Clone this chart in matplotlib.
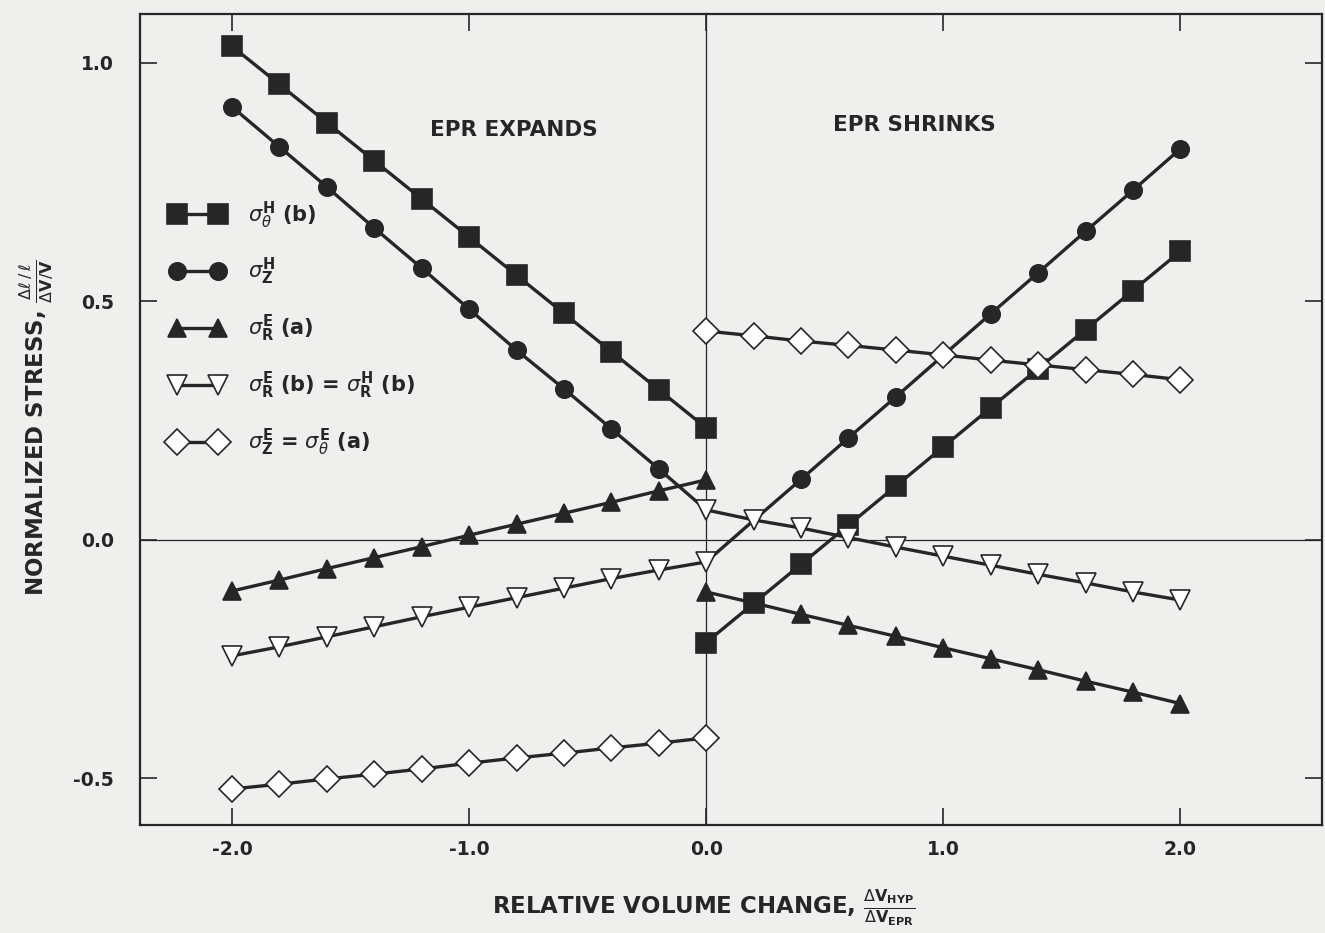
import numpy as np
import matplotlib
matplotlib.use("Agg")
import matplotlib.pyplot as plt

# Relative volume change positions
x_left = [-2.0, -1.8, -1.6, -1.4, -1.2, -1.0, -0.8, -0.6, -0.4, -0.2, 0.0]
x_right = [0.0, 0.2, 0.4, 0.6, 0.8, 1.0, 1.2, 1.4, 1.6, 1.8, 2.0]

# Normalized stress values, EPR expands (left) / EPR shrinks (right)
sq_left = [1.035, 0.955, 0.875, 0.795, 0.715, 0.635, 0.555, 0.475, 0.395, 0.315, 0.235]
sq_right = [-0.215, -0.133, -0.051, 0.031, 0.113, 0.195, 0.277, 0.359, 0.441, 0.523, 0.605]

circ_left = [0.908, 0.824, 0.740, 0.654, 0.570, 0.484, 0.398, 0.317, 0.233, 0.149, 0.063]
circ_right = [-0.046, 0.041, 0.127, 0.214, 0.300, 0.387, 0.474, 0.560, 0.647, 0.733, 0.820]

tri_left = [-0.107, -0.084, -0.060, -0.037, -0.014, 0.010, 0.033, 0.056, 0.079, 0.103, 0.126]
tri_right = [-0.109, -0.132, -0.156, -0.179, -0.202, -0.226, -0.249, -0.272, -0.296, -0.319, -0.343]

itri_left = [-0.243, -0.224, -0.203, -0.182, -0.161, -0.141, -0.121, -0.101, -0.081, -0.063, -0.046]
itri_right = [0.063, 0.042, 0.025, 0.005, -0.015, -0.034, -0.053, -0.072, -0.090, -0.109, -0.126]

dia_left = [-0.522, -0.512, -0.501, -0.491, -0.480, -0.468, -0.457, -0.447, -0.436, -0.426, -0.415]
dia_right = [0.438, 0.428, 0.417, 0.408, 0.398, 0.388, 0.377, 0.367, 0.357, 0.347, 0.336]

labels = [
    r'$\sigma_{\theta}^{\mathbf{H}}$ (b)',
    r'$\sigma_{\mathbf{Z}}^{\mathbf{H}}$',
    r'$\sigma_{\mathbf{R}}^{\mathbf{E}}$ (a)',
    r'$\sigma_{\mathbf{R}}^{\mathbf{E}}$ (b) = $\sigma_{\mathbf{R}}^{\mathbf{H}}$ (b)',
    r'$\sigma_{\mathbf{Z}}^{\mathbf{E}}$ = $\sigma_{\theta}^{\mathbf{E}}$ (a)',
]

BG = '#efefed'
INK = '#262626'

plt.rcParams['font.family'] = ['DejaVu Sans']
plt.rcParams['mathtext.fontset'] = 'dejavusans'

fig = plt.figure(figsize=(13.25, 9.33), dpi=100, facecolor=BG)
ax = fig.add_axes([0.1057, 0.1158, 0.8923, 0.8692], facecolor=BG)

lw = 2.4
common = dict(color=INK, lw=lw, markeredgecolor=INK, markeredgewidth=1.2)

# filled square
ax.plot(x_left, sq_left, marker='s', ms=14.5, markerfacecolor=INK, zorder=4, label=labels[0], **common)
ax.plot(x_right, sq_right, marker='s', ms=14.5, markerfacecolor=INK, zorder=4, **common)
# filled circle (end points hidden under the open triangles)
ax.plot(x_left, circ_left, marker='o', ms=12.5, markerfacecolor=INK, zorder=3,
        markevery=list(range(10)), label=labels[1], **common)
ax.plot(x_right, circ_right, marker='o', ms=12.5, markerfacecolor=INK, zorder=3,
        markevery=[2, 3, 4, 5, 6, 7, 8, 9, 10], **common)
# filled triangle
ax.plot(x_left, tri_left, marker='^', ms=13, markerfacecolor=INK, zorder=3, label=labels[2], **common)
ax.plot(x_right, tri_right, marker='^', ms=13, markerfacecolor=INK, zorder=3, **common)
# open inverted triangle
ax.plot(x_left, itri_left, marker='v', ms=14.5, markerfacecolor='white', zorder=5, label=labels[3], **common)
ax.plot(x_right, itri_right, marker='v', ms=14.5, markerfacecolor='white', zorder=5, **common)
# open diamond
ax.plot(x_left, dia_left, marker='D', ms=12.8, markerfacecolor='white', zorder=5, label=labels[4], **common)
ax.plot(x_right, dia_right, marker='D', ms=12.8, markerfacecolor='white', zorder=5, **common)

# reference lines
ax.axhline(0.0, color=INK, lw=0.9, zorder=1)
ax.axvline(0.0, color=INK, lw=0.9, zorder=1)

ax.set_xlim(-2.388, 2.599)
ax.set_ylim(-0.5975, 1.1027)

ax.set_xticks([-2.0, -1.0, 0.0, 1.0, 2.0])
ax.set_xticklabels(['-2.0', '-1.0', '0.0', '1.0', '2.0'])
ax.set_yticks([-0.5, 0.0, 0.5, 1.0])
ax.set_yticklabels(['-0.5', '0.0', '0.5', '1.0'])
ax.tick_params(direction='in', length=12, width=1.2, color=INK,
               top=True, right=True, labelsize=13.5, labelcolor=INK)
ax.tick_params(axis='x', pad=11)
ax.tick_params(axis='y', pad=19)
for lab in ax.get_xticklabels() + ax.get_yticklabels():
    lab.set_fontweight('bold')
for sp in ax.spines.values():
    sp.set_color(INK)
    sp.set_linewidth(1.6)

ax.set_xlabel(r'RELATIVE VOLUME CHANGE, $\frac{\Delta\mathbf{V}_{\mathbf{HYP}}}{\Delta\mathbf{V}_{\mathbf{EPR}}}$',
              fontsize=16.5, fontweight='bold', color=INK)
ax.set_ylabel(r'NORMALIZED STRESS, $\frac{\Delta\ell\,/\,\ell}{\Delta\mathbf{V}/\mathbf{V}}$',
              fontsize=16.5, fontweight='bold', color=INK)
ax.xaxis.set_label_coords(0.477, -0.077)
ax.yaxis.set_label_coords(-0.072, 0.49)

ax.text(-0.81, 0.86, 'EPR EXPANDS', fontsize=15.5, fontweight='bold', color=INK, ha='center', va='center')
ax.text(0.88, 0.87, 'EPR SHRINKS', fontsize=15.5, fontweight='bold', color=INK, ha='center', va='center')

leg = ax.legend(loc='upper left', bbox_to_anchor=(0.026, 0.7715), numpoints=2, frameon=False,
                fontsize=15, handlelength=2.57, labelspacing=1.23, handletextpad=1.15,
                borderaxespad=0.0, borderpad=0.0)
for t in leg.get_texts():
    t.set_fontweight('bold')
    t.set_color(INK)

fig.savefig('out.png', dpi=100, facecolor=BG)
